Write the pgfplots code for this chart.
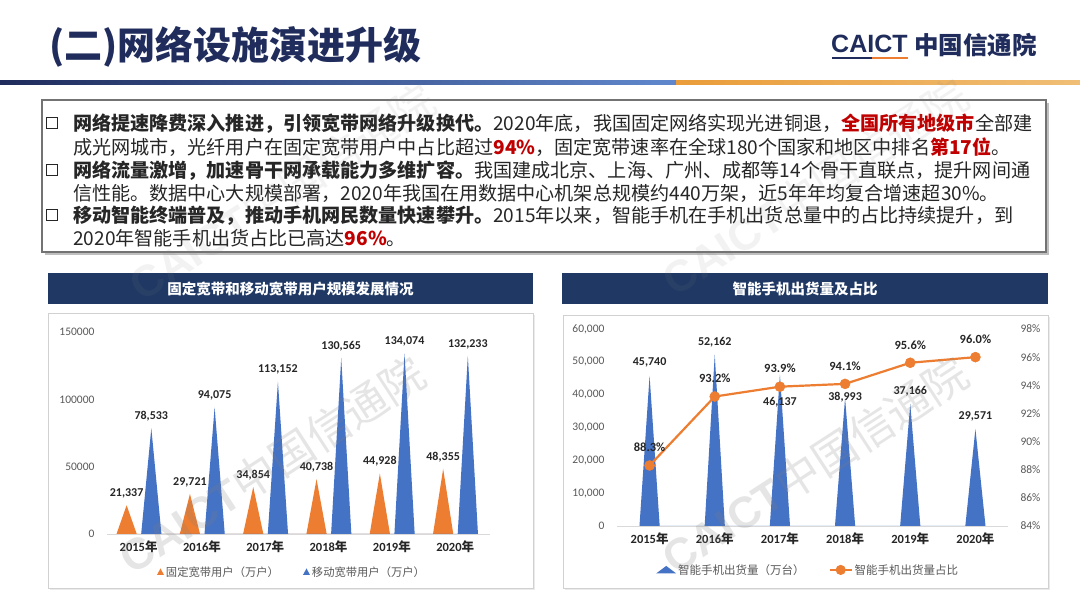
\documentclass[border=0pt]{standalone}
\usepackage{fontspec}
\setmainfont{Noto Sans CJK SC}
\newfontfamily\lat{Carlito}
\newfontfamily\logofont{Liberation Sans}
\usepackage{pgfplots}
\pgfplotsset{compat=1.18}

\definecolor{navy}{HTML}{1F2C5C}
\definecolor{band}{HTML}{1F3864}
\definecolor{orgC}{HTML}{ED7D31}
\definecolor{bluC}{HTML}{4472C4}
\definecolor{txt}{HTML}{262626}
\definecolor{redC}{HTML}{C00000}
\definecolor{tickC}{HTML}{595959}
\definecolor{lineO}{HTML}{E9A23B}

\newcommand{\fs}[2]{\fontsize{#1}{#2}\selectfont}
\newcommand{\yr}[1]{{\lat\bfseries #1}\textbf{年}}
\newcommand{\hl}[1]{\textcolor{redC}{\textbf{#1}}}

\pgfplotsset{
  slide/.style={
    scale only axis, clip=false, anchor=south west,
    xmin=-0.5, ymin=0,
    axis lines*=left,
    x axis line style={draw=black!15, line width=0.9pt},
    y axis line style={draw=none},
    tick style={draw=none},
    xtick={0,1,2,3,4,5},
    xticklabels={\yr{2015},\yr{2016},\yr{2017},\yr{2018},\yr{2019},\yr{2020}},
    xticklabel style={font=\fs{12.5}{13}, text=txt, yshift=-3pt},
    yticklabel style={font=\lat\fs{11.5}{12}, text=tickC, xshift=-9pt},
    /pgf/number format/assume math mode=true,
    scaled y ticks=false,
    legend style={draw=none, fill=none, font=\fs{11.3}{12}, text=tickC, anchor=center,
      legend columns=2, /tikz/every even column/.append style={column sep=22pt}},
  },
  lbl/.style={draw=none, mark=none, forget plot,
    nodes near coords={\pgfmathprintnumber[fixed, precision=0, 1000 sep={,}]{\pgfplotspointmeta}},
    every node near coord/.append style={font=\lat\bfseries\fs{12}{12}, text=txt, anchor=center, yshift=#1}},
}

\begin{document}
\begin{tikzpicture}[x=1pt,y=1pt]
\fill[white] (0,0) rectangle (1080,607);

% header
\node[anchor=west, inner sep=0, text=navy, font=\fs{38}{40}\bfseries] at (49,560) {(二)网络设施演进升级};
\node[anchor=west, inner sep=0, text=navy, font=\logofont\bfseries\fs{25}{25}] at (831,563) {CAICT};
\fill[navy] (832,547.5) rectangle (872,549.5);
\fill[orgC] (872,547.5) rectangle (908,549.5);
\node[anchor=west, inner sep=0, text=navy, font=\fs{24.5}{25}\bfseries] at (914,562) {中国信通院};
\shade[left color=navy, right color=bluC!85] (0,522) rectangle (676,526);
\shade[left color=lineO!85!orgC, right color=lineO!70] (676,522) rectangle (1080,526);

% text box
\fill[black!25] (45,352) rectangle (1049,504);
\filldraw[fill=white, draw=black!55, line width=1.3pt] (42,355) rectangle (1046,507);
\foreach \yy in {484,437,392} \draw[txt, line width=1.7pt] (46.5,\yy-5.5) rectangle (57.5,\yy+5.5);
\begin{scope}[every node/.style={anchor=base west, inner sep=0, font=\fs{19.1}{23}, text=txt}]
\node at (73,476.5) {\textbf{网络提速降费深入推进，引领宽带网络升级换代。}2020年底，我国固定网络实现光进铜退，\hl{全国所有地级市}全部建};
\node at (73,452.5) {成光网城市，光纤用户在固定宽带用户中占比超过\hl{94\%}，固定宽带速率在全球180个国家和地区中排名\hl{第17位}。};
\node at (73,429.5) {\textbf{网络流量激增，加速骨干网承载能力多维扩容。}我国建成北京、上海、广州、成都等14个骨干直联点，提升网间通};
\node at (73,406.5) {信性能。数据中心大规模部署，2020年我国在用数据中心机架总规模约440万架，近5年年均复合增速超30\%。};
\node at (73,384.5) {\textbf{移动智能终端普及，推动手机网民数量快速攀升。}2015年以来，智能手机在手机出货总量中的占比持续提升，到};
\node at (73,361.5) {2020年智能手机出货占比已高达\hl{96\%}。};
\end{scope}

% panels and banners
\fill[black!8] (50,17) rectangle (535,292);
\filldraw[fill=white, draw=black!18, line width=0.8pt] (48,19) rectangle (533,294);
\fill[band] (48,303) rectangle (533,334);
\node[text=white, font=\fs{14.5}{15}\bfseries] at (290.5,318.5) {固定宽带和移动宽带用户规模发展情况};
\fill[black!8] (565,17) rectangle (1050,290);
\filldraw[fill=white, draw=black!18, line width=0.8pt] (563,19) rectangle (1048,292);
\fill[band] (562,303) rectangle (1048,334);
\node[text=white, font=\fs{14.5}{15}\bfseries] at (805,318.5) {智能手机出货量及占比};

% left chart
\begin{axis}[slide, at={(107pt,73pt)}, width=383pt, height=202pt, xmax=5.55, ymax=150000,
  ytick={0,50000,100000,150000},
  yticklabel style={/pgf/number format/fixed, /pgf/number format/1000 sep={}},
  legend style={at={(0.483,-0.188)}}]
\addplot[fill=orgC, draw=none, legend image code/.code={\fill (0pt,-3pt) -- (3.5pt,3.5pt) -- (7pt,-3pt) -- cycle;}]
  coordinates {(-0.35,0) (-0.19,21337) (-0.03,0) (0.65,0) (0.81,29721) (0.97,0) (1.65,0) (1.81,34854) (1.97,0)
               (2.65,0) (2.81,40738) (2.97,0) (3.65,0) (3.81,44928) (3.97,0) (4.65,0) (4.81,48355) (4.97,0)};
\addplot[fill=bluC, draw=none, legend image code/.code={\fill (0pt,-3pt) -- (3.5pt,3.5pt) -- (7pt,-3pt) -- cycle;}]
  coordinates {(0.04,0) (0.2,78533) (0.36,0) (1.04,0) (1.2,94075) (1.36,0) (2.04,0) (2.2,113152) (2.36,0)
               (3.04,0) (3.2,130565) (3.36,0) (4.04,0) (4.2,134074) (4.36,0) (5.04,0) (5.2,132233) (5.36,0)};
\legend{固定宽带用户（万户）,移动宽带用户（万户）}
\addplot[lbl=12pt] coordinates {(-0.19,21337) (0.81,29721) (1.81,34854) (2.81,40738) (3.81,44928) (4.81,48355)};
\addplot[lbl=12pt] coordinates {(0.2,78533) (1.2,94075) (2.2,113152) (3.2,130565) (4.2,134074) (5.2,132233)};
\end{axis}

% right chart, shipments
\begin{axis}[slide, at={(617pt,81pt)}, width=391pt, height=197pt, xmax=5.5, ymax=60000,
  ytick={0,10000,20000,30000,40000,50000,60000},
  yticklabel style={/pgf/number format/fixed, /pgf/number format/1000 sep={,}},
  legend style={at={(0.489,-0.223)}, font=\fs{11.5}{12}}]
\addplot[fill=bluC, draw=none, legend image code/.code={\fill (0pt,-3.5pt) -- (10pt,4pt) -- (20pt,-3.5pt) -- cycle;}]
  coordinates {(-0.155,0) (0,45740) (0.155,0) (0.845,0) (1,52162) (1.155,0) (1.845,0) (2,46137) (2.155,0)
               (2.845,0) (3,38993) (3.155,0) (3.845,0) (4,37166) (4.155,0) (4.845,0) (5,29571) (5.155,0)};
\addlegendimage{orgC, line width=2pt, mark=*, mark size=4pt, mark options={fill=orgC},
  legend image code/.code={\draw[mark repeat=2, mark phase=2] plot coordinates {(0pt,0pt) (11pt,0pt) (22pt,0pt)};}}
\legend{智能手机出货量（万台）,智能手机出货量占比}
\addplot[lbl=13pt] coordinates {(0,45740) (1,52162) (4,37166) (5,29571)};
\addplot[lbl=-28pt] coordinates {(2,46137)};
\addplot[lbl=1pt] coordinates {(3,38993)};
\end{axis}

% right chart, share
\begin{axis}[scale only axis, anchor=south west, at={(617pt,81pt)}, width=391pt, height=197pt, clip=false,
  xmin=-0.5, xmax=5.5, ymin=84, ymax=98, hide x axis, axis y line*=right,
  y axis line style={draw=none}, tick style={draw=none},
  ytick={84,86,88,90,92,94,96,98}, yticklabel={\pgfmathprintnumber{\tick}\%},
  yticklabel style={font=\lat\fs{11.5}{12}, text=tickC, xshift=9pt},
  /pgf/number format/assume math mode=true]
\addplot[orgC, line width=2.2pt, mark=*, mark size=5pt, mark options={fill=orgC, draw=orgC, line width=0.5pt},
  nodes near coords={\pgfmathprintnumber[fixed, fixed zerofill, precision=1]{\pgfplotspointmeta}\%},
  every node near coord/.append style={font=\lat\bfseries\fs{12.5}{12}, text=txt, anchor=center, yshift=18pt}]
  coordinates {(0,88.3) (1,93.2) (2,93.9) (3,94.1) (4,95.6) (5,96.0)};
\end{axis}

% watermarks
\begin{scope}[every node/.style={rotate=33, font=\fs{44}{44}, inner sep=0}]
\node[opacity=0.2, text=black!50] at (272,142) {{\logofont\bfseries CAICT}中国信通院};
\node[opacity=0.2, text=black!50] at (815,142) {{\logofont\bfseries CAICT}中国信通院};
\node[opacity=0.1, text=black!50] at (282,415) {{\logofont\bfseries CAICT}中国信通院};
\node[opacity=0.1, text=black!50] at (815,420) {{\logofont\bfseries CAICT}中国信通院};
\end{scope}
\pgfresetboundingbox
\path[use as bounding box] (0,0) rectangle (1080,607);
\end{tikzpicture}
\end{document}
